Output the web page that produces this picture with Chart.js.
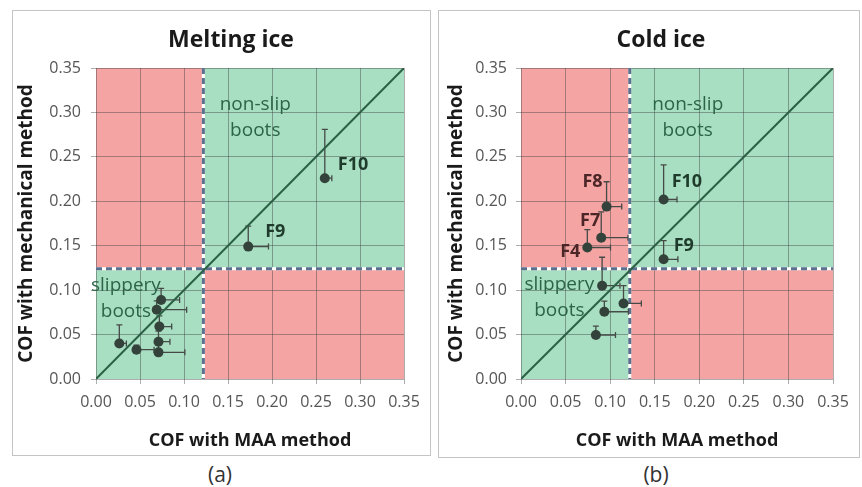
<!DOCTYPE html>
<html>
<head>
<meta charset="utf-8">
<script src="https://cdn.jsdelivr.net/npm/chart.js@4.4.1/dist/chart.umd.min.js"></script>
<style>
  body { margin: 0; background: #fff; width: 862px; height: 487px; position: relative; overflow: hidden; font-family: 'Open Sans', sans-serif; }
  .frame { position: absolute; border: 1.5px solid #c4c4c4; box-sizing: border-box; }
  canvas { position: absolute; top: 0; }
  .cap { position: absolute; top: 460px; width: 60px; font-size: 21px; color: #333; text-align: center; }
</style>
</head>
<body>
<div class="frame" style="left:12px;top:10px;width:419px;height:446px"></div>
<div class="frame" style="left:438px;top:10px;width:422px;height:448px"></div>
<canvas id="melting" width="431" height="460" style="left:0"></canvas>
<canvas id="cold" width="431" height="460" style="left:431px"></canvas>
<div class="cap" style="left:190px">(a)</div>
<div class="cap" style="left:626px">(b)</div>
<script>
// Melting ice: COF with MAA method (x) vs mechanical method (y), plus-only error bars
const meltX    = [0.260, 0.173, 0.0265, 0.046, 0.071, 0.071, 0.072, 0.069, 0.074];
const meltY    = [0.226, 0.149, 0.040, 0.033, 0.030, 0.042, 0.059, 0.078, 0.089];
const meltXErr = [0.008, 0.023, 0.008, 0.020, 0.030, 0.013, 0.014, 0.034, 0.021];
const meltYErr = [0.055, 0.023, 0.021, 0.005, 0.012, 0.012, 0.012, 0.010, 0.013];

// Cold ice
const coldX    = [0.160, 0.160, 0.096, 0.090, 0.0744, 0.091, 0.115, 0.0935, 0.084];
const coldY    = [0.202, 0.1347, 0.194, 0.159, 0.148, 0.105, 0.085, 0.0757, 0.0495];
const coldXErr = [0.015, 0.016, 0.017, 0.030, 0.026, 0.020, 0.020, 0.027, 0.022];
const coldYErr = [0.039, 0.021, 0.028, 0.029, 0.020, 0.032, 0.020, 0.012, 0.010];

// y = x reference line
const diagX = [0, 0.35];
const diagY = [0, 0.35];

// slip limits splitting the plot into zones
const limitX = 0.122;
const limitY = 0.124;

const axisMin = 0, axisMax = 0.35, tickStep = 0.05;

const RED = '#f5a4a4';
const GREEN = '#a8dfc2';
const DARK = '#33423a';
const TEXT_GREEN = '#2c6447';
const TAG_GREEN = '#1f3b2c';
const TAG_RED = '#4c2626';

const cofPlugin = {
  id: 'cof',
  beforeDraw(chart, args, o) {
    const { ctx, chartArea: a, scales: { x, y } } = chart;
    const px = x.getPixelForValue(limitX), py = y.getPixelForValue(limitY);
    ctx.save();
    ctx.fillStyle = RED;
    ctx.fillRect(a.left, a.top, px - a.left, py - a.top);
    ctx.fillRect(px, py, a.right - px, a.bottom - py);
    ctx.fillStyle = GREEN;
    ctx.fillRect(px, a.top, a.right - px, py - a.top);
    ctx.fillRect(a.left, py, px - a.left, a.bottom - py);
    ctx.restore();
  },
  beforeDatasetsDraw(chart, args, o) {
    const { ctx, chartArea: a, scales: { x, y } } = chart;
    const px = x.getPixelForValue(limitX), py = y.getPixelForValue(limitY);
    ctx.save();
    // white underlay + blue dashes
    ctx.lineWidth = 3;
    ctx.strokeStyle = '#ffffff';
    ctx.beginPath();
    ctx.moveTo(px, a.top); ctx.lineTo(px, a.bottom);
    ctx.moveTo(a.left, py); ctx.lineTo(a.right, py);
    ctx.stroke();
    ctx.strokeStyle = '#5b6f8e';
    ctx.setLineDash([6, 4]);
    ctx.stroke();
    ctx.setLineDash([]);

    // error bars
    ctx.strokeStyle = '#454a47';
    ctx.lineWidth = 1.3;
    o.xs.forEach((xv, i) => {
      const cx = x.getPixelForValue(xv), cy = y.getPixelForValue(o.ys[i]);
      const ex = x.getPixelForValue(xv + o.xErr[i]);
      const ey = y.getPixelForValue(o.ys[i] + o.yErr[i]);
      ctx.beginPath();
      ctx.moveTo(cx, cy); ctx.lineTo(ex, cy);
      ctx.moveTo(ex, cy - 3); ctx.lineTo(ex, cy + 3);
      ctx.moveTo(cx, cy); ctx.lineTo(cx, ey);
      ctx.moveTo(cx - 3, ey); ctx.lineTo(cx + 3, ey);
      ctx.stroke();
    });
    ctx.restore();
  },
  afterDatasetsDraw(chart, args, o) {
    const { ctx, scales: { x, y } } = chart;
    ctx.save();
    ctx.textBaseline = 'middle';
    ctx.font = "19px 'Open Sans'";
    ctx.fillStyle = TEXT_GREEN;
    ctx.textAlign = 'center';
    o.notes.forEach(n => {
      ctx.fillText(n.text, x.getPixelForValue(n.x), y.getPixelForValue(n.y));
    });
    ctx.font = "bold 18px 'Open Sans'";
    o.tags.forEach(t => {
      const cx = x.getPixelForValue(o.xs[t.i]), cy = y.getPixelForValue(o.ys[t.i]);
      ctx.fillStyle = t.color;
      ctx.textAlign = t.dx >= 0 ? 'left' : 'right';
      ctx.fillText(t.text, cx + t.dx, cy + t.dy);
    });
    ctx.restore();
  },
  afterDraw(chart, args, o) {
    const { ctx } = chart;
    ctx.save();
    ctx.font = "bold 23px 'Open Sans'";
    ctx.fillStyle = '#1a1a1a';
    ctx.textAlign = 'center';
    ctx.textBaseline = 'middle';
    ctx.fillText(o.title, o.titleX, 40);
    ctx.restore();
  }
};

function makeChart(id, xs, ys, xErr, yErr, opts) {
  const axis = (title, pad, size) => ({
    type: 'linear',
    min: axisMin,
    max: axisMax,
    border: { display: false },
    grid: { color: 'rgba(60,60,60,0.42)', lineWidth: 1, tickLength: 5 },
    ticks: {
      stepSize: tickStep,
      padding: pad,
      color: '#555',
      font: { family: 'Open Sans', size: 16 },
      callback: v => v.toFixed(2)
    },
    title: {
      display: true,
      text: title,
      color: '#1a1a1a',
      font: { family: 'Open Sans', size: size, weight: 'bold' }
    }
  });
  const xAxis = axis('COF with MAA method', 9, 18);
  xAxis.title.padding = { top: 0, bottom: 8 };
  xAxis.afterFit = s => { s.height = 81; };
  const yAxis = axis('COF with mechanical method', opts.yPad, 19);
  yAxis.title.padding = { top: opts.yTitlePad, bottom: 0 };
  yAxis.afterFit = s => { s.width = opts.yWidth; };

  return new Chart(document.getElementById(id), {
    type: 'scatter',
    data: {
      datasets: [
        {
          type: 'line',
          data: diagX.map((v, i) => ({ x: v, y: diagY[i] })),
          borderColor: '#2b6045',
          borderWidth: 2,
          pointRadius: 0
        },
        {
          data: xs.map((v, i) => ({ x: v, y: ys[i] })),
          backgroundColor: DARK,
          borderWidth: 0,
          pointRadius: 5
        }
      ]
    },
    options: {
      responsive: false,
      animation: false,
      layout: { padding: { left: 0, right: opts.padRight, top: 68, bottom: 0 } },
      scales: { x: xAxis, y: yAxis },
      plugins: {
        legend: { display: false },
        tooltip: { enabled: false },
        cof: {
          xs, ys, xErr, yErr,
          title: opts.title,
          titleX: opts.titleX,
          notes: opts.notes,
          tags: opts.tags
        }
      }
    },
    plugins: [cofPlugin]
  });
}

makeChart('melting', meltX, meltY, meltXErr, meltYErr, {
  title: 'Melting ice', titleX: 231, yWidth: 96, yPad: 10, yTitlePad: 15, padRight: 27,
  notes: [
    { text: 'non-slip', x: 0.181, y: 0.309 },
    { text: 'boots', x: 0.181, y: 0.279 },
    { text: 'slippery', x: 0.034, y: 0.105 },
    { text: 'boots', x: 0.034, y: 0.0757 }
  ],
  tags: [
    { text: 'F10', i: 0, dx: 13, dy: -13, color: TAG_GREEN },
    { text: 'F9', i: 1, dx: 17, dy: -15, color: TAG_GREEN }
  ]
});

makeChart('cold', coldX, coldY, coldXErr, coldYErr, {
  title: 'Cold ice', titleX: 230, yWidth: 90, yPad: 9, yTitlePad: 14, padRight: 29,
  notes: [
    { text: 'non-slip', x: 0.187, y: 0.309 },
    { text: 'boots', x: 0.187, y: 0.279 },
    { text: 'slippery', x: 0.043, y: 0.106 },
    { text: 'boots', x: 0.043, y: 0.077 }
  ],
  tags: [
    { text: 'F10', i: 0, dx: 8, dy: -18, color: TAG_GREEN },
    { text: 'F9', i: 1, dx: 10, dy: -13, color: TAG_GREEN },
    { text: 'F8', i: 2, dx: -4, dy: -25, color: TAG_RED },
    { text: 'F7', i: 3, dx: -1, dy: -17, color: TAG_RED },
    { text: 'F4', i: 4, dx: -7, dy: 4, color: TAG_RED }
  ]
});
</script>
</body>
</html>
